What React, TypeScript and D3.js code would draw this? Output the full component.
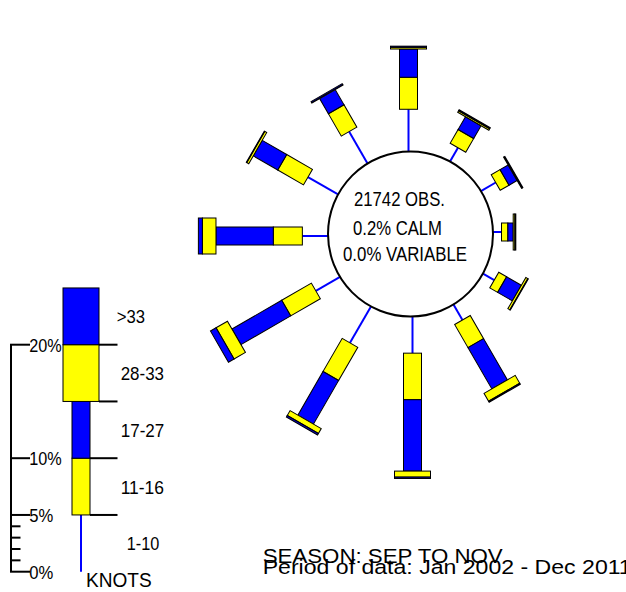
import * as d3 from 'd3'

// wind directions (degrees from north) and percent frequency per speed class
const DIRECTIONS = [0, 30, 60, 90, 120, 150, 180, 210, 240, 270, 300, 330]
const KNOTS_1_10 = [3.72, 1.4, 1.5, 0.75, 1.15, 1.58, 3.23, 3.7, 2.46, 2.26, 3.06, 3.25]
const KNOTS_11_16 = [2.82, 1.4, 0.9, 0.56, 0.8, 2.35, 4.1, 3.38, 3.02, 2.56, 2.62, 2.27]
const KNOTS_17_27 = [2.49, 1.3, 0.82, 0.47, 1.5, 4.2, 6.29, 4.43, 5.06, 5.05, 2.49, 1.54]
const KNOTS_28_33 = [0.15, 0.15, 0.05, 0.15, 0.2, 0.8, 0.53, 0.5, 1.16, 1.2, 0.2, 0.05]
const KNOTS_GT_33 = [0.1, 0.1, 0.08, 0.08, 0.05, 0.1, 0.12, 0.15, 0.57, 0.35, 0.05, 0.1]

const SPEED_LABELS = ['1-10', '11-16', '17-27', '28-33', '>33']
const LABEL_WIDTHS = [32.6, 43.3, 43.6, 43.3, 28.3]
const MAJOR_TICKS = [0, 5, 10, 20]
const MINOR_TICKS = [1, 2, 3, 4]

const CENTER_LINES = ['21742 OBS.', '0.2% CALM', '0.0% VARIABLE']
const FOOTER_LINES = ['SEASON: SEP TO NOV', 'Period of data: Jan 2002 - Dec 2011']

const BLUE = '#0000ff'
const YELLOW = '#ffff00'
const FONT = '"Liberation Sans", Arial, sans-serif'

export default function App() {
  const width = 626
  const height = 592
  const cx = 410.5
  const cy = 234
  const calmR = 82.5
  const narrowW = 18
  const wideW = 36
  const shift = -2

  // percent -> pixels (same ruler as the legend)
  const r = d3.scaleLinear().domain([0, 20]).range([0, 227])
  // legend vertical scale
  const ly = d3.scaleLinear().domain([0, 20]).range([571.7, 344.7])

  const rows = DIRECTIONS.map((dir, i) => {
    const vals = [KNOTS_1_10[i], KNOTS_11_16[i], KNOTS_17_27[i], KNOTS_28_33[i], KNOTS_GT_33[i]]
    const edges = [calmR]
    vals.forEach(v => edges.push(edges[edges.length - 1] + r(v)))
    return { dir, edges }
  })

  const segStyle = [
    null,
    { fill: YELLOW, w: narrowW },
    { fill: BLUE, w: narrowW },
    { fill: YELLOW, w: wideW },
    { fill: BLUE, w: wideW }
  ]

  const centerPos = [
    { x: 354, y: 206, w: 91 },
    { x: 353, y: 235, w: 89 },
    { x: 343, y: 261, w: 124 }
  ]

  return (
    <svg
      width={width}
      height={height}
      style={{ position: 'absolute', left: 0, top: 0, background: '#fff' }}
      fontFamily={FONT}
    >
      {/* rose */}
      {rows.map(({ dir, edges }) => (
        <g key={dir} transform={`translate(${cx},${cy}) rotate(${dir})`}>
          <line x1={shift} x2={shift} y1={-edges[0]} y2={-edges[1]} stroke={BLUE} strokeWidth={2} />
          {[1, 2, 3, 4].map(s => (
            <rect
              key={s}
              x={shift - segStyle[s]!.w / 2}
              y={-edges[s + 1]}
              width={segStyle[s]!.w}
              height={edges[s + 1] - edges[s]}
              fill={segStyle[s]!.fill}
              stroke="#000"
              strokeWidth={1}
            />
          ))}
        </g>
      ))}

      <circle cx={cx} cy={cy} r={calmR} fill="#fff" stroke="#000" strokeWidth={2} />
      {CENTER_LINES.map((t, i) => (
        <text
          key={t}
          x={centerPos[i].x}
          y={centerPos[i].y}
          fontSize={20}
          textLength={centerPos[i].w}
          lengthAdjust="spacingAndGlyphs"
          fill="#000"
        >
          {t}
        </text>
      ))}

      {/* legend ruler */}
      <line x1={11} x2={11} y1={ly(0)} y2={ly(20)} stroke="#000" strokeWidth={2} />
      {MAJOR_TICKS.map(t => (
        <g key={t}>
          <line x1={10} x2={30} y1={ly(t)} y2={ly(t)} stroke="#000" strokeWidth={2} />
          <text
            x={29.3}
            y={ly(t) + 7}
            fontSize={19}
            textLength={t < 10 ? 24 : 32.5}
            lengthAdjust="spacingAndGlyphs"
          >
            {`${t}%`}
          </text>
        </g>
      ))}
      {MINOR_TICKS.map(t => (
        <line key={t} x1={10} x2={20.5} y1={ly(t)} y2={ly(t)} stroke="#000" strokeWidth={2} />
      ))}

      {/* legend bar */}
      <line x1={81} x2={81} y1={ly(0)} y2={ly(5)} stroke={BLUE} strokeWidth={2} />
      {[1, 2, 3, 4].map(s => (
        <rect
          key={s}
          x={81 - segStyle[s]!.w / 2}
          y={ly(5 * (s + 1))}
          width={segStyle[s]!.w}
          height={ly(5 * s) - ly(5 * (s + 1))}
          fill={segStyle[s]!.fill}
          stroke="#000"
          strokeWidth={1}
        />
      ))}
      {[5, 10, 15, 20].map(t => (
        <line
          key={t}
          x1={t <= 10 ? 90 : 99}
          x2={117.5}
          y1={ly(t)}
          y2={ly(t)}
          stroke="#000"
          strokeWidth={2}
        />
      ))}
      {SPEED_LABELS.map((lab, i) => (
        <text
          key={lab}
          x={i === 0 ? 126.7 : i === 4 ? 116.7 : 120.7}
          y={ly(5 * i + 2.5) + 7}
          fontSize={18.5}
          textLength={LABEL_WIDTHS[i]}
          lengthAdjust="spacingAndGlyphs"
        >
          {lab}
        </text>
      ))}
      <text x={86} y={587} fontSize={20} textLength={65.7} lengthAdjust="spacingAndGlyphs">
        KNOTS
      </text>

      {/* footer */}
      <text x={262.7} y={563.3} fontSize={20.5} textLength={240} lengthAdjust="spacingAndGlyphs">
        {FOOTER_LINES[0]}
      </text>
      <text x={262.7} y={574} fontSize={20.5} textLength={369} lengthAdjust="spacingAndGlyphs">
        {FOOTER_LINES[1]}
      </text>
    </svg>
  )
}
